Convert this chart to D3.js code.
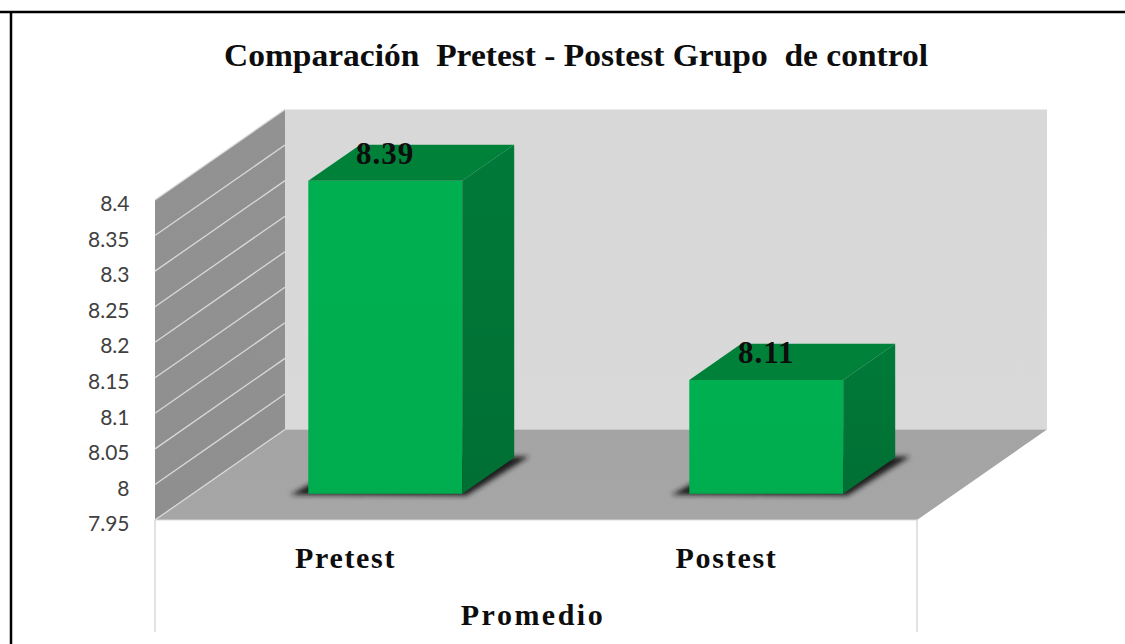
<!DOCTYPE html>
<html>
<head>
<meta charset="utf-8">
<script src="https://cdn.jsdelivr.net/npm/d3@7"></script>
<style>
body { margin: 0; background: #fff; }
svg { display: block; }
text { white-space: pre; }
.serif { font-family: "Liberation Serif", serif; font-weight: bold; fill: #0d0d0d; }
.tick text { font-family: Lato, sans-serif; font-size: 21px; fill: #404040; }
</style>
</head>
<body>
<div id="content"></div>
<script>
var categories = ["Pretest", "Postest"];
var values = [8.39, 8.11];
var valueLabels = ["8.39", "8.11"];
var tickValues = [7.95, 8, 8.05, 8.1, 8.15, 8.2, 8.25, 8.3, 8.35, 8.4];
var tickLabels = ["7.95", "8", "8.05", "8.1", "8.15", "8.2", "8.25", "8.3", "8.35", "8.4"];
var chartTitle = "Comparación  Pretest - Postest Grupo  de control";
var axisTitle = "Promedio";

var width = 1125, height = 644;
var plot = {left: 155, right: 917, top: 200, bottom: 520};
// oblique projection of the depth axis
var depthX = 130, depthY = -90.5;
var barDepth = [0.29, 0.69];

var svg = d3.select("#content").append("svg")
	.attr("width", width).attr("height", height);

var x = d3.scaleBand().domain(categories)
	.range([plot.left, plot.right])
	.paddingInner(0.596).paddingOuter(0.298).align(0.509);
var y = d3.scaleLinear().domain([7.95, 8.4]).range([plot.bottom, plot.top]);

// screen position of (x pixel, y value, depth 0..1)
function pt(px, v, d) {
	return [px + d * depthX, y(v) + d * depthY];
}
function poly(points) {
	return points.map(function(p) { return p.join(","); }).join(" ");
}

var defs = svg.append("defs");
defs.append("filter").attr("id", "blur")
	.attr("x", "-20%").attr("y", "-20%").attr("width", "140%").attr("height", "140%")
	.append("feGaussianBlur").attr("stdDeviation", 2.5);

function gradient(id, from, to) {
	var g = defs.append("linearGradient").attr("id", id)
		.attr("x1", 0).attr("y1", 0).attr("x2", 0).attr("y2", 1);
	g.append("stop").attr("offset", "0%").attr("stop-color", from);
	g.append("stop").attr("offset", "100%").attr("stop-color", to);
}
gradient("wallFill", "#d8d8d8", "#d9d9d9");
gradient("sideFill", "#929292", "#8f8f8f");
gradient("floorFill", "#a4a4a4", "#a6a6a6");
gradient("frontFill", "#00b050", "#00ad4e");
gradient("rightFill", "#007a38", "#006f33");

var y0 = y.domain()[0], y1 = y.domain()[1];

// outer frame, only top and left edges are inside the picture
svg.append("line").attr("x1", 0).attr("x2", width).attr("y1", 12).attr("y2", 12)
	.attr("stroke", "#000").attr("stroke-width", 2.5);
svg.append("line").attr("x1", 11).attr("x2", 11).attr("y1", 11).attr("y2", height)
	.attr("stroke", "#000").attr("stroke-width", 2.5);

// back wall, side wall, floor
svg.append("polygon").attr("fill", "url(#wallFill)")
	.attr("points", poly([pt(plot.left, y1, 1), pt(plot.right, y1, 1), pt(plot.right, y0, 1), pt(plot.left, y0, 1)]));
svg.append("polygon").attr("fill", "url(#sideFill)")
	.attr("points", poly([pt(plot.left, y1, 0), pt(plot.left, y1, 1), pt(plot.left, y0, 1), pt(plot.left, y0, 0)]));
svg.append("polygon").attr("fill", "url(#floorFill)")
	.attr("points", poly([pt(plot.left, y0, 0), pt(plot.left, y0, 1), pt(plot.right, y0, 1), pt(plot.right, y0, 0)]));

// gridlines on the side wall
svg.append("g").selectAll("line").data(tickValues).enter().append("line")
	.attr("x1", plot.left).attr("y1", function(d) { return y(d); })
	.attr("x2", plot.left + depthX).attr("y2", function(d) { return y(d) + depthY; })
	.attr("stroke", "#d9d9d9").attr("stroke-width", 1.3);

// front edges below the floor
svg.append("g").selectAll("line").data([plot.left, plot.right]).enter().append("line")
	.attr("x1", function(d) { return d; }).attr("x2", function(d) { return d; })
	.attr("y1", plot.bottom).attr("y2", 632)
	.attr("stroke", "#d9d9d9").attr("stroke-width", 1.5);
svg.append("line").attr("x1", plot.left).attr("x2", plot.right)
	.attr("y1", plot.bottom).attr("y2", plot.bottom)
	.attr("stroke", "#d9d9d9").attr("stroke-width", 1);

// axis labels
var axis = d3.axisLeft(y).tickValues(tickValues).tickSize(0).tickPadding(0)
	.tickFormat(function(d, i) { return tickLabels[i]; });
svg.append("g").attr("transform", "translate(129.5,4)").call(axis)
	.call(function(g) { g.select(".domain").remove(); });

// bars
var bars = svg.selectAll(".bar").data(values).enter().append("g").attr("class", "bar");

bars.each(function(v, i) {
	var g = d3.select(this);
	var a = x(categories[i]), b = a + x.bandwidth();
	var mid = (a + b) / 2;
	var d0 = barDepth[0], d1 = barDepth[1];
	var fl = pt(a, y0, d0), fr = pt(b, y0, d0), br = pt(b, y0, d1), bl = pt(a, y0, d1);

	// floor shadow, sticks out left of the front and right of the back
	g.append("polygon").attr("fill", "#1c1c1c").attr("filter", "url(#blur)")
		.attr("points", poly([
			[fl[0] - 18, fl[1] + 1], [fr[0] + 4, fr[1] + 2],
			[br[0] + 15, br[1] - 1], [bl[0], bl[1]]
		]));
	g.append("polygon").attr("fill", "url(#frontFill)")
		.attr("points", poly([pt(a, v, d0), pt(b, v, d0), fr, fl]));
	g.append("polygon").attr("fill", "#008139")
		.attr("points", poly([pt(a, v, d0), pt(a, v, d1), pt(b, v, d1), pt(b, v, d0)]));
	g.append("polygon").attr("fill", "url(#rightFill)")
		.attr("points", poly([pt(b, v, d0), pt(b, v, d1), br, fr]));

	// value label: over the bar front, baseline on the middle of the top face
	g.append("text").attr("class", "serif")
		.attr("x", pt(mid, v, d0)[0])
		.attr("y", pt(mid, v, (d0 + d1) / 2)[1] + 1)
		.attr("text-anchor", "middle").attr("font-size", 31)
		.attr("letter-spacing", 1)
		.text(valueLabels[i]);

	// category label
	g.append("text").attr("class", "serif")
		.attr("x", x(categories[i]) + x.bandwidth() / 2 - 2).attr("y", 568)
		.attr("text-anchor", "middle").attr("font-size", 30)
		.attr("letter-spacing", 1.7)
		.text(categories[i]);
});

// titles
svg.append("text").attr("class", "serif")
	.attr("x", 224).attr("y", 66)
	.attr("font-size", 32)
	.attr("textLength", 704).attr("lengthAdjust", "spacingAndGlyphs")
	.text(chartTitle);
svg.append("text").attr("class", "serif")
	.attr("x", 533).attr("y", 625)
	.attr("text-anchor", "middle").attr("font-size", 30)
	.attr("letter-spacing", 2.5)
	.text(axisTitle);
</script>
</body>
</html>
